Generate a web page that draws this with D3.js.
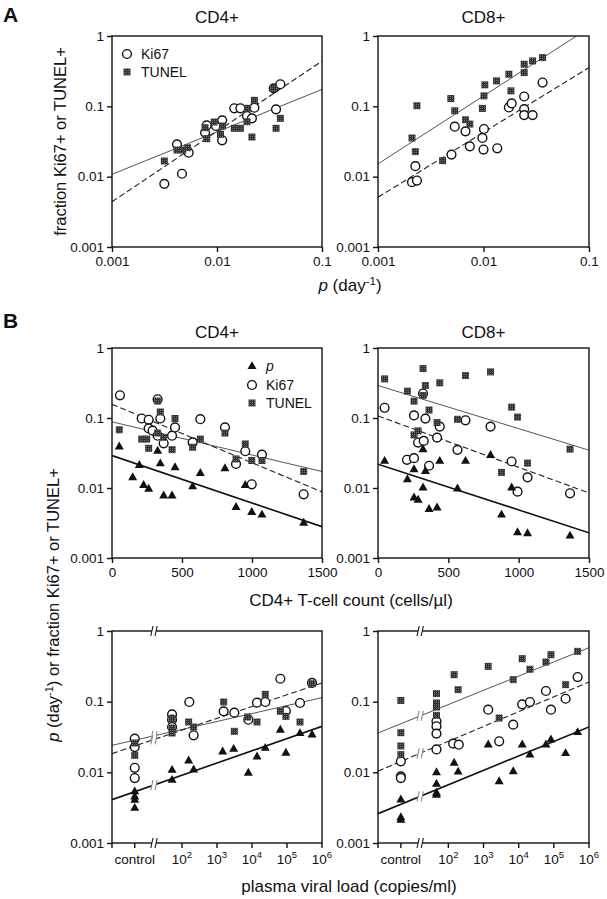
<!DOCTYPE html>
<html><head><meta charset="utf-8">
<script src="https://cdn.jsdelivr.net/npm/d3@7"></script>
<style>
body{margin:0;background:#fff}
svg{display:block}
text{font-family:"Liberation Sans",Arial,Helvetica,sans-serif;fill:#111}
</style>
</head><body>
<svg id="c" width="607" height="899"></svg>
<script>
// ---------------- DATA ----------------
// Panel A: fraction Ki67+/TUNEL+ vs p (day^-1)
const A_CD4_Ki67 = [[0.00315,0.0079],[0.00464,0.011],[0.00416,0.0288],[0.00537,0.0219],[0.00798,0.0537],[0.0077,0.0423],[0.00977,0.0525],[0.0112,0.0632],[0.0112,0.0329],[0.0146,0.0937],[0.0167,0.0937],[0.0193,0.0729],[0.0215,0.0675],[0.0227,0.0957],[0.0347,0.180],[0.0401,0.206],[0.0365,0.0906]];
const A_CD4_TUNEL = [[0.00315,0.0167],[0.00416,0.0239],[0.0047,0.0239],[0.00525,0.0258],[0.0077,0.0497],[0.00798,0.0347],[0.0094,0.0599],[0.0108,0.040],[0.0113,0.0525],[0.0146,0.0487],[0.0167,0.0487],[0.0196,0.0937],[0.0193,0.0605],[0.0227,0.1217],[0.0215,0.0366],[0.0347,0.180],[0.0365,0.0487],[0.0401,0.0675]];
const A_CD4_fitTUNEL = [[0.001,0.0108],[0.1,0.174]];
const A_CD4_fitKi67 = [[0.001,0.0044],[0.1,0.44]];

const A_CD8_TUNEL = [[0.0021,0.0355],[0.00234,0.102],[0.00226,0.0227],[0.0049,0.129],[0.00534,0.0865],[0.00675,0.0645],[0.00742,0.056],[0.0041,0.0169],[0.00977,0.0934],[0.0101,0.141],[0.0103,0.202],[0.0133,0.230],[0.0174,0.286],[0.0182,0.166],[0.0243,0.397],[0.0243,0.302],[0.0292,0.442],[0.0363,0.493]];
const A_CD8_Ki67 = [[0.0021,0.00835],[0.00234,0.0088],[0.00226,0.0141],[0.00497,0.0206],[0.00534,0.0513],[0.00675,0.0441],[0.00742,0.027],[0.00977,0.0355],[0.0101,0.0476],[0.0100,0.0243],[0.0135,0.0253],[0.0174,0.0964],[0.0185,0.110],[0.0243,0.138],[0.0243,0.0914],[0.0243,0.075],[0.0292,0.075],[0.0363,0.218]];
const A_CD8_fitTUNEL = [[0.001,0.0152],[0.1,1.30]];
const A_CD8_fitKi67 = [[0.001,0.0051],[0.1,0.356]];

// Panel B (middle): vs CD4+ T-cell count
const B_CD4_p = [[52,0.0394],[195,0.0214],[148,0.0143],[226,0.0111],[262,0.0098],[326,0.0342],[345,0.0226],[369,0.00787],[429,0.00787],[450,0.0199],[576,0.0106],[631,0.0165],[807,0.0192],[886,0.00537],[952,0.0111],[998,0.00457],[1071,0.00418],[1369,0.0032]];
const B_CD4_Ki67 = [[57,0.211],[212,0.0984],[262,0.0942],[262,0.071],[290,0.066],[326,0.185],[326,0.0559],[345,0.0984],[369,0.0435],[429,0.0559],[450,0.0733],[576,0.0449],[631,0.0962],[807,0.0733],[886,0.0221],[952,0.0335],[998,0.0113],[1071,0.0300],[1369,0.00813]];
const B_CD4_TUNEL = [[52,0.0679],[212,0.050],[248,0.050],[262,0.0369],[326,0.175],[345,0.122],[326,0.061],[369,0.0529],[429,0.0353],[450,0.0984],[576,0.0382],[631,0.050],[807,0.061],[886,0.026],[952,0.0426],[998,0.0247],[1071,0.0247],[1369,0.0172]];
const B_CD4_fitP = [[0,0.029],[1500,0.0028]];
const B_CD4_fitKi67 = [[0,0.157],[1500,0.00878]];
const B_CD4_fitTUNEL = [[0,0.0882],[1500,0.0172]];

const B_CD8_TUNEL = [[47,0.362],[209,0.242],[256,0.174],[320,0.508],[337,0.291],[320,0.21],[363,0.130],[439,0.318],[256,0.0573],[285,0.0654],[420,0.0859],[565,0.0958],[622,0.404],[800,0.456],[878,0.0167],[950,0.143],[992,0.103],[1063,0.0227],[1365,0.0359]];
const B_CD8_Ki67 = [[47,0.140],[256,0.109],[320,0.224],[337,0.098],[285,0.0446],[325,0.0471],[420,0.0525],[439,0.0753],[206,0.0253],[256,0.0267],[363,0.0208],[565,0.0351],[622,0.0927],[800,0.0753],[950,0.0239],[992,0.00887],[1063,0.0142],[1365,0.0084]];
const B_CD8_p = [[47,0.0245],[209,0.0134],[256,0.0186],[256,0.00737],[285,0.00682],[320,0.0359],[337,0.0176],[320,0.0102],[363,0.00503],[420,0.0053],[439,0.0245],[565,0.0099],[622,0.0245],[800,0.0298],[878,0.00418],[950,0.0102],[992,0.00234],[1063,0.00227],[1365,0.0021]];
const B_CD8_fitTUNEL = [[0,0.291],[1500,0.0347]];
const B_CD8_fitKi67 = [[0,0.107],[1500,0.0085]];
const B_CD8_fitP = [[0,0.0219],[1500,0.00229]];

// Panel B (bottom): vs plasma viral load
const V_CD4_Ki67 = [["control",0.030],["control",0.0228],["control",0.0116],["control",0.0083],[52,0.066],[52,0.0556],[52,0.0438],[162,0.0989],[215,0.0334],[1550,0.073],[3130,0.0699],[7850,0.0556],[13900,0.0968],[24000,0.0989],[64500,0.211],[93000,0.0738],[235000,0.0958],[518000,0.184]];
const V_CD4_TUNEL = [["control",0.026],["control",0.0174],[52,0.0575],[52,0.0424],[52,0.036],[155,0.0516],[215,0.0438],[1550,0.0989],[3130,0.038],[7500,0.0607],[13900,0.0516],[24000,0.127],[64500,0.073],[93000,0.062],[235000,0.0516],[518000,0.180]];
const V_CD4_p = [["control",0.0054],["control",0.00457],["control",0.0041],["control",0.00316],[52,0.0109],[52,0.00787],[155,0.0148],[215,0.011],[1450,0.0198],[2990,0.0216],[7850,0.00989],[13900,0.0168],[24000,0.0223],[64500,0.0402],[93000,0.019],[235000,0.036],[518000,0.0345]];
const V_CD4_fitP = [[1,0.0041],[1e6,0.0448]];
const V_CD4_fitKi67 = [[1,0.0184],[1e6,0.184]];
const V_CD4_fitTUNEL = [[1,0.0241],[1e6,0.114]];

const V_CD8_TUNEL = [["control",0.104],["control",0.0364],["control",0.0236],["control",0.0178],[46,0.130],[46,0.0958],[46,0.084],[46,0.064],[146,0.241],[190,0.148],[1360,0.316],[2790,0.0587],[7000,0.205],[12600,0.406],[20900,0.287],[59600,0.364],[82800,0.462],[216000,0.174],[475000,0.515]];
const V_CD8_Ki67 = [["control",0.0143],["control",0.00878],["control",0.0083],[46,0.0527],[46,0.0448],[46,0.0353],[46,0.0211],[137,0.0255],[198,0.0246],[1360,0.077],[2790,0.0275],[7000,0.0473],[12600,0.0917],[20900,0.0989],[59600,0.1416],[82800,0.077],[216000,0.110],[475000,0.223]];
const V_CD8_p = [["control",0.00415],["control",0.00233],["control",0.00214],[46,0.0101],[46,0.00691],[46,0.00516],[46,0.00483],[146,0.0137],[190,0.0103],[1360,0.0249],[2790,0.00753],[7000,0.0104],[12600,0.0249],[20900,0.018],[59600,0.0249],[82800,0.0293],[216000,0.0188],[475000,0.0372]];
const V_CD8_fitTUNEL = [[1,0.036],[1e6,0.581]];
const V_CD8_fitKi67 = [[1,0.0104],[1e6,0.190]];
const V_CD8_fitP = [[1,0.0026],[1e6,0.0438]];

// tick labels
const yTickVals = [1, 0.1, 0.01, 0.001];
const yTickLabels = ["1", "0.1", "0.01", "0.001"];
const pTickVals = [0.001, 0.01, 0.1];
const pTickLabels = ["0.001", "0.01", "0.1"];
const cd4TickVals = [0, 500, 1000, 1500];
const vlTickVals = ["control", 1e2, 1e3, 1e4, 1e5, 1e6];
const vlTickExp = [null, 2, 3, 4, 5, 6];

// ---------------- LAYOUT ----------------
const FONT = "'Liberation Sans', Arial, Helvetica, sans-serif";
const INK = "#111";
const colL = {x0: 112, x1: 322}, colR = {x0: 378, x1: 589};
const rowA = {y0: 36, y1: 247}, rowB = {y0: 348, y1: 558}, rowC = {y0: 631, y1: 843};
const CONTROL_AT = Math.pow(10, 0.65), BREAK_AT = Math.pow(10, 1.2);

const svg = d3.select("#c");
const defs = svg.append("defs");
const pat = defs.append("pattern").attr("id","sqpat").attr("patternUnits","userSpaceOnUse").attr("width",2).attr("height",2);
pat.append("rect").attr("width",2).attr("height",2).attr("fill","#333");
pat.append("rect").attr("width",1).attr("height",1).attr("fill","#6a6a6a");

let clipN = 0;
function makePanel(col, row) {
  const box = {x0: col.x0, x1: col.x1, y0: row.y0, y1: row.y1};
  const id = "clip" + (clipN++);
  defs.append("clipPath").attr("id", id).append("rect")
    .attr("x", box.x0).attr("y", box.y0).attr("width", box.x1 - box.x0).attr("height", box.y1 - box.y0);
  box.clip = "url(#" + id + ")";
  box.y = d3.scaleLog().domain([0.001, 1]).range([box.y1, box.y0]);
  return box;
}
function frame(box) {
  svg.append("rect").attr("x", box.x0).attr("y", box.y0)
    .attr("width", box.x1 - box.x0).attr("height", box.y1 - box.y0)
    .attr("fill", "none").attr("stroke", INK).attr("stroke-width", 1.4);
}
function styleAxis(g) {
  g.select(".domain").remove();
  g.selectAll("line").attr("stroke", INK).attr("stroke-width", 1.4);
  g.selectAll("text").attr("font-size", 13.5).attr("font-family", FONT).attr("fill", INK);
}
function yAxis(box) {
  const ax = d3.axisLeft(box.y).tickValues(yTickVals)
    .tickFormat((d, i) => yTickLabels[i]).tickSize(5).tickPadding(3).tickSizeOuter(0);
  svg.append("g").attr("transform", `translate(${box.x0},0)`).call(ax).call(styleAxis);
}
function xAxisStd(box, vals, fmt) {
  const ax = d3.axisBottom(box.x).tickValues(vals).tickFormat(fmt).tickSize(5).tickPadding(4).tickSizeOuter(0);
  svg.append("g").attr("transform", `translate(0,${box.y1})`).call(ax).call(styleAxis);
}
function xAxisVL(box) {
  const g = svg.append("g");
  vlTickVals.forEach((v, i) => {
    const x = box.fx(v);
    g.append("line").attr("x1", x).attr("x2", x).attr("y1", box.y1).attr("y2", box.y1 + 5)
      .attr("stroke", INK).attr("stroke-width", 1.4);
    const t = g.append("text").attr("x", x).attr("y", box.y1 + 21).attr("text-anchor", "middle")
      .attr("font-size", 13.5).attr("font-family", FONT);
    if (vlTickExp[i] === null) t.text(v);
    else {
      t.append("tspan").text("10");
      t.append("tspan").attr("dy", -6).attr("font-size", 9.5).text(vlTickExp[i]);
    }
  });
  g.append("line").attr("x1", box.x0).attr("x2", box.x0).attr("y1", box.y1).attr("y2", box.y1 + 5)
    .attr("stroke", INK).attr("stroke-width", 1.4);
}
const lineStyles = {
  p: {w: 1.6, c: "#111", dash: null},
  ki67: {w: 1.1, c: "#222", dash: "6,3"},
  tunel: {w: 1.0, c: "#555", dash: null}
};
function fitLine(box, pts, style) {
  const st = lineStyles[style];
  const gen = d3.line().x(d => box.fx(d[0])).y(d => box.y(d[1]));
  svg.append("path").attr("d", gen(pts)).attr("clip-path", box.clip)
    .attr("fill", "none").attr("stroke", st.c).attr("stroke-width", st.w)
    .attr("stroke-dasharray", st.dash);
}
function circles(box, data) {
  svg.append("g").selectAll(null).data(data).join("circle")
    .attr("cx", d => box.fx(d[0])).attr("cy", d => box.y(d[1])).attr("r", 4.4)
    .attr("fill", "#fff").attr("stroke", INK).attr("stroke-width", 1.4);
}
function squares(box, data) {
  svg.append("g").selectAll(null).data(data).join("rect")
    .attr("x", d => box.fx(d[0]) - 3.5).attr("y", d => box.y(d[1]) - 3.5)
    .attr("width", 7).attr("height", 7).attr("fill", "url(#sqpat)");
}
const TRI = "M0,-4.8L4.5,3.1L-4.5,3.1Z";
function triangles(box, data) {
  svg.append("g").selectAll(null).data(data).join("path")
    .attr("d", TRI).attr("transform", d => `translate(${box.fx(d[0])},${box.y(d[1])})`)
    .attr("fill", INK);
}
function breakMark(x, y, color) {
  const g = svg.append("g").attr("transform", `translate(${x},${y})`);
  g.append("rect").attr("x", -2.2).attr("y", -5).attr("width", 4.4).attr("height", 10).attr("fill", "#fff");
  g.append("path").attr("d", "M-3.2,5L-1,-5M1,5L3.2,-5").attr("stroke", color).attr("stroke-width", 1.1).attr("fill", "none");
}
function fitAt(pts, v) {
  const l0 = Math.log10(pts[0][0]), l1 = Math.log10(pts[1][0]);
  const y0 = Math.log10(pts[0][1]), y1 = Math.log10(pts[1][1]);
  return Math.pow(10, y0 + (y1 - y0) * (Math.log10(v) - l0) / (l1 - l0));
}

// ---------------- PANEL A ----------------
function panelA(col, ki, tu, fitTu, fitKi) {
  const b = makePanel(col, rowA);
  b.x = d3.scaleLog().domain([0.001, 0.1]).range([b.x0, b.x1]);
  b.fx = b.x;
  fitLine(b, fitTu, "tunel");
  fitLine(b, fitKi, "ki67");
  circles(b, ki);
  squares(b, tu);
  frame(b);
  yAxis(b);
  xAxisStd(b, pTickVals, (d, i) => pTickLabels[i]);
  return b;
}
panelA(colL, A_CD4_Ki67, A_CD4_TUNEL, A_CD4_fitTUNEL, A_CD4_fitKi67);
panelA(colR, A_CD8_Ki67, A_CD8_TUNEL, A_CD8_fitTUNEL, A_CD8_fitKi67);

// ---------------- PANEL B middle ----------------
function panelB(col, p, ki, tu, fP, fKi, fTu) {
  const b = makePanel(col, rowB);
  b.x = d3.scaleLinear().domain([0, 1500]).range([b.x0, b.x1]);
  b.fx = b.x;
  fitLine(b, fTu, "tunel");
  fitLine(b, fKi, "ki67");
  fitLine(b, fP, "p");
  circles(b, ki);
  squares(b, tu);
  triangles(b, p);
  frame(b);
  yAxis(b);
  xAxisStd(b, cd4TickVals, d3.format("d"));
  return b;
}
panelB(colL, B_CD4_p, B_CD4_Ki67, B_CD4_TUNEL, B_CD4_fitP, B_CD4_fitKi67, B_CD4_fitTUNEL);
panelB(colR, B_CD8_p, B_CD8_Ki67, B_CD8_TUNEL, B_CD8_fitP, B_CD8_fitKi67, B_CD8_fitTUNEL);

// ---------------- PANEL B bottom ----------------
function panelC(col, p, ki, tu, fP, fKi, fTu) {
  const b = makePanel(col, rowC);
  b.x = d3.scaleLog().domain([1, 1e6]).range([b.x0, b.x1]);
  b.fx = v => v === "control" ? b.x(CONTROL_AT) : b.x(v);
  fitLine(b, fTu, "tunel");
  fitLine(b, fKi, "ki67");
  fitLine(b, fP, "p");
  circles(b, ki);
  squares(b, tu);
  triangles(b, p);
  frame(b);
  yAxis(b);
  xAxisVL(b);
  const bx = b.x(BREAK_AT);
  breakMark(bx, b.y0, INK);
  breakMark(bx, b.y1, INK);
  [fTu, fKi, fP].forEach(f => breakMark(bx, b.y(fitAt(f, BREAK_AT)), "#888"));
  return b;
}
panelC(colL, V_CD4_p, V_CD4_Ki67, V_CD4_TUNEL, V_CD4_fitP, V_CD4_fitKi67, V_CD4_fitTUNEL);
panelC(colR, V_CD8_p, V_CD8_Ki67, V_CD8_TUNEL, V_CD8_fitP, V_CD8_fitKi67, V_CD8_fitTUNEL);

// ---------------- LEGENDS ----------------
function legendItem(kind, x, y, label, italic) {
  if (kind === "circle") svg.append("circle").attr("cx", x).attr("cy", y).attr("r", 4.4)
    .attr("fill", "#fff").attr("stroke", INK).attr("stroke-width", 1.4);
  if (kind === "square") svg.append("rect").attr("x", x - 3.5).attr("y", y - 3.5)
    .attr("width", 7).attr("height", 7).attr("fill", "url(#sqpat)");
  if (kind === "tri") svg.append("path").attr("d", TRI).attr("transform", `translate(${x},${y})`).attr("fill", INK);
  svg.append("text").attr("x", x + 14).attr("y", y + 5).attr("font-size", 14)
    .attr("font-style", italic ? "italic" : null).text(label);
}
legendItem("circle", 127, 54, "Ki67");
legendItem("square", 127, 72, "TUNEL");
legendItem("tri", 252, 366, "p", true);
legendItem("circle", 252, 385, "Ki67");
legendItem("square", 252, 403, "TUNEL");

// ---------------- TEXT ----------------
function txt(x, y, s, opts = {}) {
  return svg.append("text").attr("x", x).attr("y", y).attr("font-size", opts.size || 17)
    .attr("font-weight", opts.weight || null).attr("text-anchor", opts.anchor || "start").text(s);
}
txt(3, 22, "A", {size: 21, weight: "bold"});
txt(3, 328, "B", {size: 21, weight: "bold"});
txt((colL.x0 + colL.x1) / 2, 23, "CD4+", {anchor: "middle"});
txt((colR.x0 + colR.x1) / 2, 23, "CD8+", {anchor: "middle"});
txt((colL.x0 + colL.x1) / 2, 338, "CD4+", {anchor: "middle"});
txt((colR.x0 + colR.x1) / 2, 338, "CD8+", {anchor: "middle"});

// A y title
svg.append("text").attr("transform", `translate(66,${(rowA.y0 + rowA.y1) / 2}) rotate(-90)`)
  .attr("text-anchor", "middle").attr("font-size", 16.5).text("fraction Ki67+ or TUNEL+");

// A x title: p (day^-1)
const ax = svg.append("text").attr("x", 350).attr("y", 291).attr("text-anchor", "middle").attr("font-size", 17);
ax.append("tspan").attr("font-style", "italic").text("p");
ax.append("tspan").text(" (day");
ax.append("tspan").attr("dy", -6).attr("font-size", 11.5).text("-1");
ax.append("tspan").attr("dy", 6).text(")");

// B middle x title
txt(351, 606, "CD4+ T-cell count (cells/µl)", {anchor: "middle"});
// B bottom x title
txt(349, 892, "plasma viral load (copies/ml)", {anchor: "middle"});

// B y title
const by = svg.append("text").attr("transform", `translate(59,605) rotate(-90)`)
  .attr("text-anchor", "middle").attr("font-size", 16.5);
by.append("tspan").attr("font-style", "italic").text("p");
by.append("tspan").text(" (day");
by.append("tspan").attr("dy", -6).attr("font-size", 11).text("-1");
by.append("tspan").attr("dy", 6).text(") or fraction Ki67+ or TUNEL+");
</script>
</body></html>
